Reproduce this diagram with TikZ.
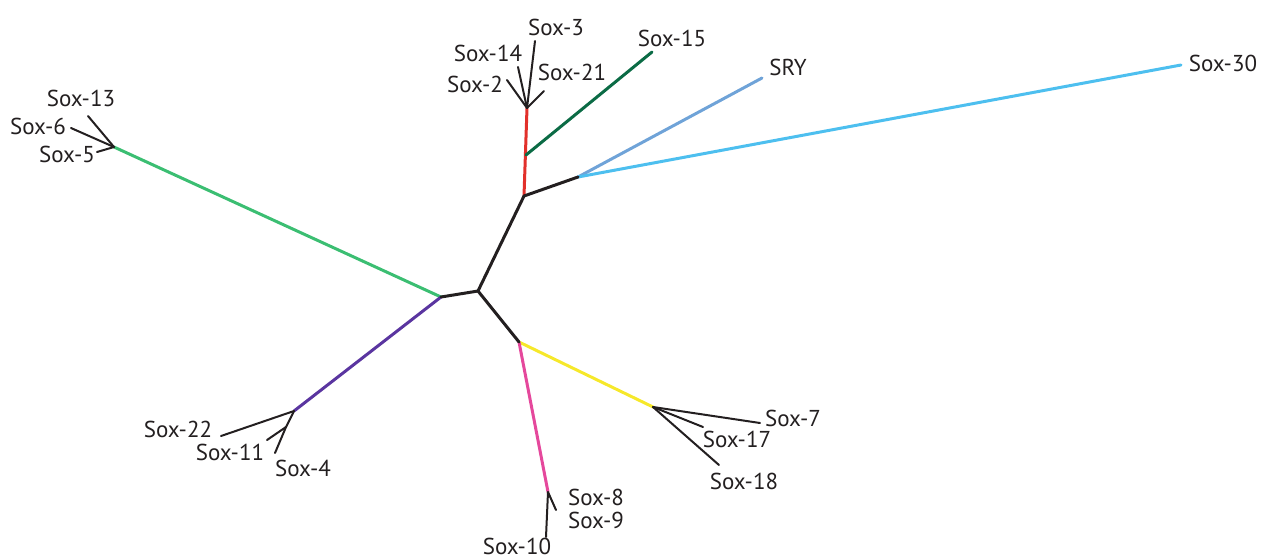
\documentclass[tikz,border=0pt]{standalone}
\usepackage{fontspec}
\setmainfont{PT Sans}
\begin{document}
\begin{tikzpicture}[x=1pt,y=-1pt,
  br/.style={line width=3pt,line cap=round},
  lf/.style={line width=2pt,draw=leafc,line cap=round},
  lbl/.style={font=\fontsize{23}{23}\selectfont,inner sep=0pt,text=leafc}]
\definecolor{leafc}{HTML}{231F20}
\definecolor{cred}{HTML}{E2302B}
\definecolor{cdkgreen}{HTML}{0B6B45}
\definecolor{cslate}{HTML}{6FA3D8}
\definecolor{csky}{HTML}{4DBFEF}
\definecolor{cgreen}{HTML}{3BBE72}
\definecolor{cpurple}{HTML}{5A35A0}
\definecolor{cyellow}{HTML}{F6E82A}
\definecolor{cpink}{HTML}{E5489C}
\useasboundingbox (0,0) rectangle (1261,558);
% junctions
\coordinate (C) at (478,291);
\coordinate (L) at (441,297);
\coordinate (U) at (524,196);
\coordinate (D) at (519,342);
\coordinate (R) at (578,177);
\coordinate (T) at (527,108);
\coordinate (G) at (526,155);
\coordinate (LJ) at (114,147);
\coordinate (BJ) at (294,411);
\coordinate (BS) at (286,427);
\coordinate (PJ) at (548,492);
\coordinate (YJ) at (653,407);
% leaf ends
\coordinate (e15) at (652,52);
\coordinate (eSRY) at (762,78);
\coordinate (e30) at (1181,65);
\coordinate (e2) at (507,80);
\coordinate (e14) at (518,67);
\coordinate (e3) at (535,41);
\coordinate (e21) at (544,91);
\coordinate (e13) at (88,116);
\coordinate (e6) at (71,128);
\coordinate (e5) at (97,152);
\coordinate (e22) at (221,436);
\coordinate (e11) at (267,440);
\coordinate (e4) at (275,453);
\coordinate (e8) at (556,510);
\coordinate (e10) at (546,537);
\coordinate (e7) at (760,423);
\coordinate (e17) at (703,427);
\coordinate (e18) at (719,465);
% colored branches
\draw[br,cgreen] (L) -- (LJ);
\draw[br,cpurple] (L) -- (BJ);
\draw[br,cred] (U) -- (T);
\draw[br,cdkgreen] (G) -- (e15);
\draw[br,cslate] (R) -- (eSRY);
\draw[br,csky] (R) -- (e30);
\draw[br,cyellow] (D) -- (YJ);
\draw[br,cpink] (D) -- (PJ);
% black backbone
\draw[br,leafc] (L) -- (C) -- (U) -- (R);
\draw[br,leafc] (C) -- (D);
% leaves
\draw[lf] (T) -- (e2);
\draw[lf] (T) -- (e14);
\draw[lf] (T) -- (e3);
\draw[lf] (T) -- (e21);
\draw[lf] (LJ) -- (e13);
\draw[lf] (LJ) -- (e6);
\draw[lf] (LJ) -- (e5);
\draw[lf] (BJ) -- (e22);
\draw[lf] (BJ) -- (BS);
\draw[lf] (BS) -- (e11);
\draw[lf] (BS) -- (e4);
\draw[lf] (PJ) -- (e8);
\draw[lf] (PJ) -- (e10);
\draw[lf] (YJ) -- (e7);
\draw[lf] (YJ) -- (e17);
\draw[lf] (YJ) -- (e18);
% labels
\node[lbl] (l3) at (556,27) {Sox-3};
\node[lbl] (l14) at (488,53) {Sox-14};
\node[lbl] (l2) at (475,84) {Sox-2};
\node[lbl] (l21) at (572,72) {Sox-21};
\node[lbl] (l15) at (672,38) {Sox-15};
\node[lbl] (lSRY) at (788,67) {SRY};
\node[lbl] (l30) at (1223,63) {Sox-30};
\node[lbl] (l13) at (81,98) {Sox-13};
\node[lbl] (l6) at (38,126) {Sox-6};
\node[lbl] (l5) at (67,154) {Sox-5};
\node[lbl] (l22) at (178,429) {Sox-22};
\node[lbl] (l11) at (230,452) {Sox-11};
\node[lbl] (l4) at (303,468) {Sox-4};
\node[lbl] (l8) at (596,497) {Sox-8};
\node[lbl] (l9) at (596,520) {Sox-9};
\node[lbl] (l10) at (517,546) {Sox-10};
\node[lbl] (l7) at (793,418) {Sox-7};
\node[lbl] (l17) at (737,439) {Sox-17};
\node[lbl] (l18) at (744,481) {Sox-18};
\end{tikzpicture}
\end{document}
